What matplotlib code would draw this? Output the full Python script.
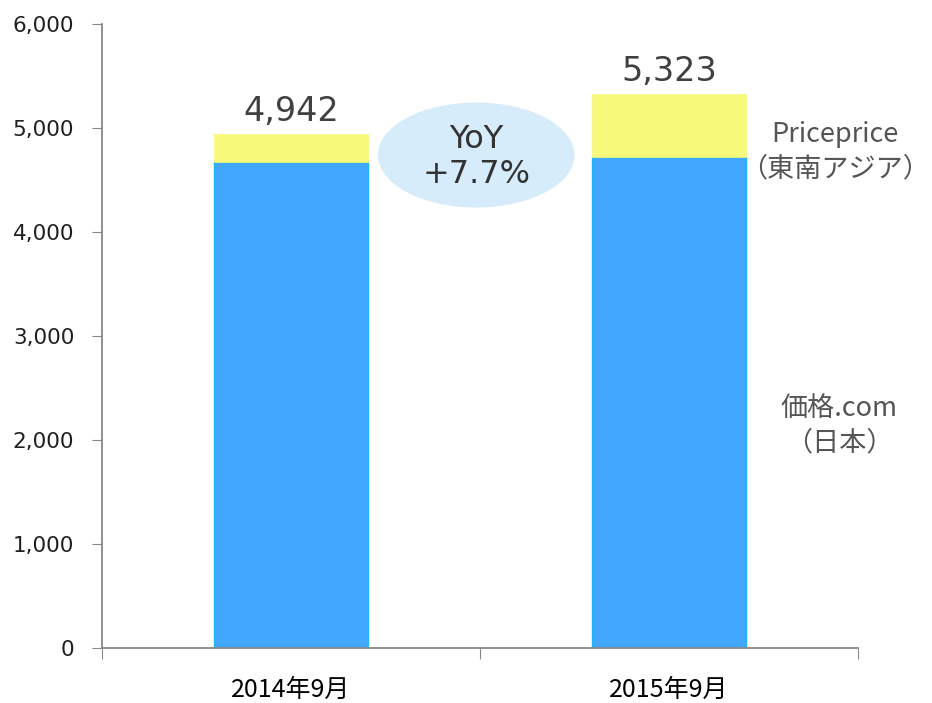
import matplotlib
matplotlib.use("Agg")
import matplotlib.pyplot as plt
from matplotlib.patches import Ellipse

plt.rcParams['font.family'] = ['DejaVu Sans', 'Noto Sans CJK JP']

categories = ["2014年9月", "2015年9月"]
kakaku = [4670, 4725]          # 価格.com（日本）
priceprice = [272, 598]        # Priceprice（東南アジア）
totals = ["4,942", "5,323"]
yoy_text = "YoY\n+7.7%"
yticks = [0, 1000, 2000, 3000, 4000, 5000, 6000]

fig = plt.figure(figsize=(9.32, 7.03), dpi=100)
ax = fig.add_axes([102/932, 55/703, 756/932, 624/703])

x = list(range(len(categories)))
w = 0.405
ax.bar(x, kakaku, width=w, color="#42A8FF", edgecolor="#1FB4F5", linewidth=1.0, zorder=2)
ax.bar(x, priceprice, width=w, bottom=kakaku, color="#F6F97A", edgecolor="#F6F97A", linewidth=0.5, zorder=2)

for xi, k, p, t in zip(x, kakaku, priceprice, totals):
    ax.text(xi, k + p + 60, t, ha="center", va="bottom", fontsize=24, color="#404040")

ax.set_xlim(-0.5, 1.5)
ax.set_ylim(0, 6000)
ax.set_yticks(yticks)
ax.set_yticklabels([f"{v:,}" for v in yticks], fontsize=15.5, color="#202020")
ax.set_xticks([-0.5, 0.5, 1.5])
ax.set_xticklabels([])
ax.set_xticks(x, minor=True)
ax.set_xticklabels(categories, minor=True, fontsize=18,
                   family=['DejaVu Sans Condensed', 'Noto Sans CJK JP'])
ax.tick_params(axis='x', which='minor', length=0, pad=21)
ax.tick_params(axis='x', which='major', length=8, color="#888888", direction='out')
ax.tick_params(axis='y', length=7, color="#888888", direction='out', pad=13)

for s in ["top", "right"]:
    ax.spines[s].set_visible(False)
for s in ["left", "bottom"]:
    ax.spines[s].set_color("#888888")
    ax.spines[s].set_linewidth(1.3)

ell = Ellipse((0.49, 4740), width=0.52, height=1010, facecolor="#D6ECFA", edgecolor="none", zorder=1)
ax.add_patch(ell)
ax.text(0.49, 4720, yoy_text, ha="center", va="center", fontsize=23, color="#333333",
        linespacing=1.15, zorder=3)

ax.text(1.438, 4770, "Priceprice\n（東南アジア）", ha="center", va="center", fontsize=19.5,
        color="#555555", linespacing=1.35, family=['Noto Sans CJK JP'])
ax.text(1.45, 2135, "価格.com\n（日本）", ha="center", va="center", fontsize=19.5,
        color="#555555", linespacing=1.35, family=['Noto Sans CJK JP'])

fig.savefig("out.png", dpi=100)
